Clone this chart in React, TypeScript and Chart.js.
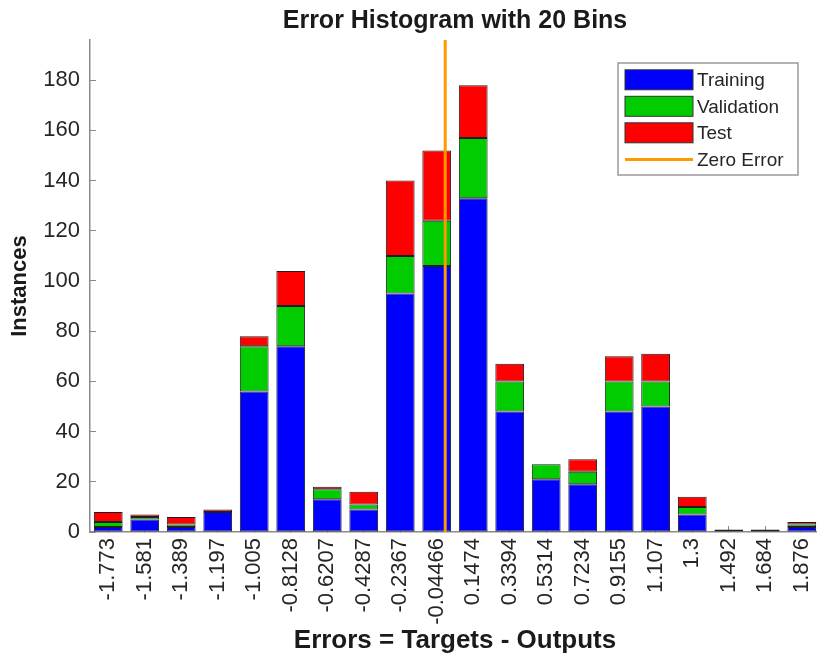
import React, { useEffect, useRef } from "react";
import { Chart, registerables } from "chart.js";

Chart.register(...registerables);

// ---- data ----
const binLabels = [
  "-1.773", "-1.581", "-1.389", "-1.197", "-1.005", "-0.8128", "-0.6207", "-0.4287",
  "-0.2367", "-0.04466", "0.1474", "0.3394", "0.5314", "0.7234", "0.9155", "1.107",
  "1.3", "1.492", "1.684", "1.876",
];
const binCenters = binLabels.map(Number);
const training = [2, 5, 2, 8, 56, 74, 13, 9, 95, 106, 133, 48, 21, 19, 48, 50, 7, 1, 1, 2];
const validation = [2, 1, 1, 0, 18, 16, 4, 2, 15, 18, 24, 12, 6, 5, 12, 10, 3, 0, 0, 1];
const test = [4, 1, 3, 1, 4, 14, 1, 5, 30, 28, 21, 7, 0, 5, 10, 11, 4, 0, 0, 1];
const yTickValues = [0, 20, 40, 60, 80, 100, 120, 140, 160, 180];
const yMax = 196;
const zeroError = 0;

const FONT = "'Liberation Sans', Arial, Helvetica, sans-serif";
const TEXT = "#262626";
const AXIS = "#8a8a8a";

const binWidth = (binCenters[binCenters.length - 1] - binCenters[0]) / (binCenters.length - 1);

const legendPlugin = {
  id: "matlabLegend",
  afterDraw(chart: any) {
    const { ctx, chartArea } = chart;
    const boxW = 180;
    const boxH = 112;
    const left = chartArea.right - 202;
    const top = chartArea.top + 23;
    ctx.save();
    ctx.fillStyle = "#ffffff";
    ctx.fillRect(left, top, boxW, boxH);
    ctx.strokeStyle = "#9a9a9a";
    ctx.lineWidth = 1.5;
    ctx.strokeRect(left, top, boxW, boxH);
    const rows = [16.8, 43.3, 69.8, 96.6];
    chart.data.datasets.forEach((ds: any, i: number) => {
      const cy = top + rows[i];
      if (ds.type === "line") {
        ctx.strokeStyle = ds.borderColor;
        ctx.lineWidth = 3;
        ctx.beginPath();
        ctx.moveTo(left + 7, cy);
        ctx.lineTo(left + 75, cy);
        ctx.stroke();
      } else {
        ctx.fillStyle = ds.backgroundColor;
        ctx.fillRect(left + 7, cy - 10, 68, 20);
        ctx.strokeStyle = "#333333";
        ctx.lineWidth = 1;
        ctx.strokeRect(left + 7, cy - 10, 68, 20);
      }
      ctx.fillStyle = TEXT;
      ctx.font = `19px ${FONT}`;
      ctx.textBaseline = "middle";
      ctx.textAlign = "left";
      ctx.fillText(ds.label, left + 79, cy + 1);
    });
    ctx.restore();
  },
};

function App() {
  const canvasRef = useRef<HTMLCanvasElement | null>(null);

  useEffect(() => {
    const canvas = canvasRef.current;
    if (!canvas) return;
    const barCommon = {
      type: "bar" as const,
      borderColor: "#1f1f1f",
      borderWidth: 1,
      borderSkipped: false,
      barPercentage: 0.79,
      categoryPercentage: 1,
    };
    const chart = new Chart(canvas, {
      data: {
        datasets: [
          {
            ...barCommon,
            label: "Training",
            data: binCenters.map((x, i) => ({ x, y: training[i] })),
            backgroundColor: "#0000FF",
          },
          {
            ...barCommon,
            label: "Validation",
            data: binCenters.map((x, i) => ({ x, y: validation[i] })),
            backgroundColor: "#00CC00",
          },
          {
            ...barCommon,
            label: "Test",
            data: binCenters.map((x, i) => ({ x, y: test[i] })),
            backgroundColor: "#FF0000",
          },
          {
            type: "line" as const,
            label: "Zero Error",
            data: [
              { x: zeroError, y: 0 },
              { x: zeroError, y: yMax },
            ],
            borderColor: "#FF9900",
            backgroundColor: "#FF9900",
            borderWidth: 3,
            pointRadius: 0,
            order: -1,
          },
        ] as any,
      },
      options: {
        animation: false,
        responsive: false,
        maintainAspectRatio: false,
        events: [],
        layout: { padding: 0 },
        plugins: {
          legend: { display: false },
          tooltip: { enabled: false },
          title: {
            display: true,
            text: "Error Histogram with 20 Bins",
            fullSize: false,
            color: "#1a1a1a",
            font: { family: FONT, size: 25, weight: "bold" },
            padding: { top: 6, bottom: 4 },
          },
        },
        scales: {
          x: {
            type: "linear",
            stacked: true,
            offset: false,
            min: binCenters[0] - binWidth / 2,
            max: binCenters[binCenters.length - 1] + binWidth / 2,
            afterBuildTicks: (scale: any) => {
              scale.ticks = binCenters.map((v) => ({ value: v }));
            },
            afterFit: (scale: any) => {
              scale.height = 130;
              scale.paddingLeft = 0;
              scale.paddingRight = 0;
            },
            grid: {
              display: true,
              offset: false,
              drawOnChartArea: false,
              drawTicks: true,
              tickLength: -6,
              color: AXIS,
            },
            border: { display: true, color: AXIS, width: 1.5 },
            ticks: {
              autoSkip: false,
              minRotation: 90,
              maxRotation: 90,
              padding: 12,
              color: TEXT,
              font: { family: FONT, size: 22 },
              callback: (_v: any, i: number) => binLabels[i],
            },
            title: {
              display: true,
              text: "Errors = Targets - Outputs",
              color: "#1a1a1a",
              font: { family: FONT, size: 26, weight: "bold" },
              padding: { top: 0, bottom: 6 },
            },
          },
          y: {
            type: "linear",
            stacked: true,
            min: 0,
            max: yMax,
            afterBuildTicks: (scale: any) => {
              scale.ticks = yTickValues.map((v) => ({ value: v }));
            },
            afterFit: (scale: any) => {
              scale.width = 90;
              scale.paddingTop = 0;
              scale.paddingBottom = 0;
            },
            grid: {
              display: true,
              drawOnChartArea: false,
              drawTicks: true,
              tickLength: -6,
              color: AXIS,
            },
            border: { display: true, color: AXIS, width: 1.5 },
            ticks: {
              padding: 16,
              color: TEXT,
              font: { family: FONT, size: 22 },
              callback: (v: any) => String(v),
            },
            title: {
              display: true,
              text: "Instances",
              color: "#1a1a1a",
              font: { family: FONT, size: 22, weight: "bold" },
              padding: { top: 7, bottom: 0 },
            },
          },
        },
      } as any,
      plugins: [legendPlugin],
    });
    return () => chart.destroy();
  }, []);

  return (
    <div
      style={{
        position: "absolute",
        left: 0,
        top: 0,
        width: 817,
        height: 662,
        overflow: "hidden",
        background: "#ffffff",
      }}
    >
      <canvas ref={canvasRef} width={820} height={662} style={{ display: "block" }} />
    </div>
  );
}

export default App;
